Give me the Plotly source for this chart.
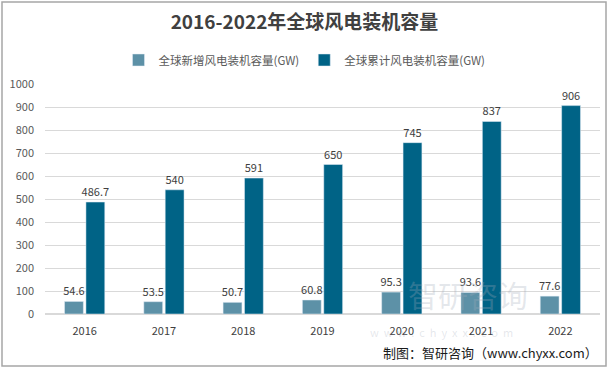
import plotly.graph_objects as go

years = ["2016", "2017", "2018", "2019", "2020", "2021", "2022"]
new_cap = [54.6, 53.5, 50.7, 60.8, 95.3, 93.6, 77.6]
cum_cap = [486.7, 540, 591, 650, 745, 837, 906]
new_name = "全球新增风电装机容量(GW)"
cum_name = "全球累计风电装机容量(GW)"
title = "2016-2022年全球风电装机容量"
source = "制图：智研咨询（www.chyxx.com）"

font_family = "Noto Sans CJK SC, Noto Sans, sans-serif"

L, R, T, B = 45, 9, 84, 54
W, H = 609, 368
pw, ph = W - L - R, H - T - B

fig = go.Figure()
fig.add_trace(go.Bar(x=years, y=new_cap, name=new_name, marker_color="#5D91A7",
                     text=[f"{v:g}" for v in new_cap], textposition="outside",
                     textfont=dict(size=11, color="#404040"), cliponaxis=False))
fig.add_trace(go.Bar(x=years, y=cum_cap, name=cum_name, marker_color="#006386",
                     text=[f"{v:g}" for v in cum_cap], textposition="outside",
                     textfont=dict(size=11, color="#404040"), cliponaxis=False))

fig.update_layout(
    width=W, height=H,
    paper_bgcolor="white", plot_bgcolor="white",
    font=dict(family=font_family, color="#595959", size=11),
    title=dict(text=f"<b>{title}</b>", x=0.5, xanchor="center", y=1 - 22 / H, yanchor="middle",
               font=dict(size=19, color="#404040")),
    legend=dict(orientation="h", xref="container", x=0.5, xanchor="center",
                y=1 + 24 / ph, yanchor="middle",
                font=dict(size=11.5, color="#595959"), traceorder="normal"),
    margin=dict(l=L, r=R, t=T, b=B, autoexpand=False),
    barmode="group", bargap=0.46, bargroupgap=0.12,
    uniformtext=dict(minsize=11, mode="show"),
    xaxis=dict(showgrid=False, showline=False, ticks="", automargin=False,
               ticklabelstandoff=9, tickfont=dict(size=11, color="#404040")),
    yaxis=dict(range=[0, 1000], dtick=100, gridcolor="#D9D9D9", gridwidth=1, automargin=False,
               zeroline=True, zerolinecolor="#D9D9D9", tickfont=dict(size=11, color="#595959"),
               ticklabelstandoff=10),
    showlegend=True,
)
# outer border
fig.add_shape(type="rect", xref="paper", yref="paper",
              x0=-(L - 2) / pw, x1=1 + (R - 3) / pw, y0=-(B - 2) / ph, y1=1 + (T - 2) / ph,
              line=dict(color="#A6A6A6", width=1.5), fillcolor="rgba(0,0,0,0)", layer="above")
# watermark
fig.add_annotation(text="智研咨询", xref="paper", yref="paper", x=(530 - L) / pw, y=(314 - 318) / ph,
                   showarrow=False, font=dict(size=30, color="rgba(160,170,185,0.28)"))
fig.add_annotation(text="w  w  w  .  c  h  y  x  x  .  c  o  m", xref="paper", yref="paper",
                   x=(515 - L) / pw, y=(314 - 342) / ph,
                   showarrow=False, font=dict(size=11, color="rgba(160,170,185,0.28)"))
fig.add_annotation(text=source, xref="paper", yref="paper", x=1.0, y=-(352 - 314) / ph,
                   xanchor="right", yanchor="middle", showarrow=False,
                   font=dict(size=13, color="#1a1a1a"))

fig.write_html("out.html", post_script="document.body.style.margin='0';",
               config={"displayModeBar": False})
